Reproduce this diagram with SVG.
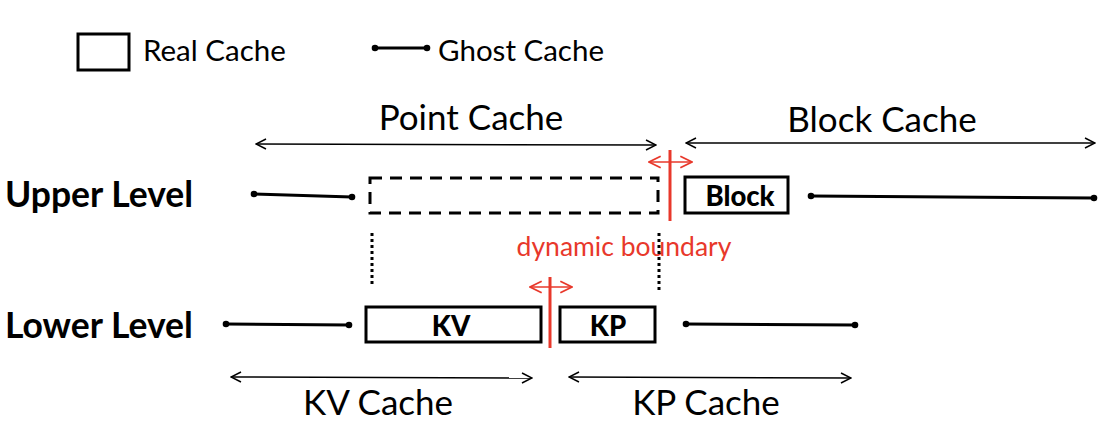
<svg xmlns="http://www.w3.org/2000/svg" width="1113" height="427" viewBox="0 0 1113 427">
<style>
.t{font-family:Lato,"Open Sans",sans-serif;fill:#000}
.lbl{font-size:35.5px;font-weight:bold}
.bx{fill:#fff;stroke:#000;stroke-width:3}
.gh{stroke:#000;stroke-width:3;fill:none}
.ar{stroke:#000;stroke-width:1.5;fill:none;marker-start:url(#a);marker-end:url(#a)}
.rar{stroke:#e8382b;stroke-width:1.5;fill:none;marker-start:url(#r);marker-end:url(#r)}
.rl{stroke:#e8382b;stroke-width:3}
.dot{stroke:#000;stroke-width:3;stroke-dasharray:3 3}
</style>
<defs>
<marker id="a" viewBox="0 0 12 12" refX="11" refY="6" markerWidth="12" markerHeight="12" markerUnits="userSpaceOnUse" orient="auto-start-reverse"><polyline points="1,1 11,6 1,11" fill="none" stroke="#000" stroke-width="1.5"/></marker>
<marker id="r" viewBox="0 0 12 12" refX="11" refY="6" markerWidth="14" markerHeight="14" markerUnits="userSpaceOnUse" orient="auto-start-reverse"><polyline points="1,1 11,6 1,11" fill="none" stroke="#e8382b" stroke-width="1.5"/></marker>
<marker id="d" viewBox="0 0 8 8" refX="4" refY="4" markerWidth="8" markerHeight="8" markerUnits="userSpaceOnUse"><circle cx="4" cy="4" r="3.3" fill="#000"/></marker>
</defs>
<g id="legend">
<rect class="bx" x="78" y="34" width="51" height="36"/>
<text class="t" x="143" y="61" font-size="29.5">Real Cache</text>
<line class="gh" x1="375" y1="48" x2="427" y2="48" marker-start="url(#d)" marker-end="url(#d)"/>
<text class="t" x="438" y="61" font-size="29.5">Ghost Cache</text>
</g>
<g id="labels">
<text class="t lbl" x="5" y="207">Upper Level</text>
<text class="t lbl" x="5" y="338">Lower Level</text>
<text class="t" x="471" y="130" font-size="35" text-anchor="middle">Point Cache</text>
<text class="t" x="882" y="132" font-size="35" text-anchor="middle">Block Cache</text>
<text class="t" x="378" y="415" font-size="35" text-anchor="middle">KV Cache</text>
<text class="t" x="706" y="415" font-size="35" text-anchor="middle">KP Cache</text>
<text x="624" y="256" font-size="26.5" text-anchor="middle" style="font-family:Lato,'Open Sans',sans-serif;fill:#e8382b">dynamic boundary</text>
</g>
<g id="point-cache">
<rect x="370" y="178" width="288" height="35" fill="none" stroke="#000" stroke-width="3" stroke-dasharray="12 8"/>
</g>
<g id="block">
<rect class="bx" x="685" y="177" width="103" height="36"/>
<text class="t" x="740" y="206" font-size="27.5" font-weight="900" text-anchor="middle">Block</text>
</g>
<g id="kv">
<rect class="bx" x="366" y="307" width="175" height="35"/>
<text class="t" x="451" y="336" font-size="27.5" font-weight="900" text-anchor="middle">KV</text>
</g>
<g id="kp">
<rect class="bx" x="560" y="307" width="95" height="35"/>
<text class="t" x="608" y="336" font-size="27.5" font-weight="900" text-anchor="middle">KP</text>
</g>
<g id="connectors">
<line class="ar" x1="256" y1="144" x2="656" y2="145"/>
<line class="ar" x1="686" y1="143" x2="1095" y2="143"/>
<line class="ar" x1="231" y1="377" x2="532" y2="378"/>
<line class="ar" x1="569" y1="377" x2="851" y2="378"/>
<line class="gh" x1="254" y1="194" x2="352" y2="197" marker-start="url(#d)" marker-end="url(#d)"/>
<line class="gh" x1="811" y1="196" x2="1094" y2="198" marker-start="url(#d)" marker-end="url(#d)"/>
<line class="gh" x1="226" y1="324" x2="349" y2="325" marker-start="url(#d)" marker-end="url(#d)"/>
<line class="gh" x1="686" y1="324" x2="855" y2="325" marker-start="url(#d)" marker-end="url(#d)"/>
<line class="dot" x1="372" y1="233" x2="372" y2="287"/>
<line class="dot" x1="659" y1="233" x2="659" y2="292"/>
<line class="rl" x1="670" y1="150" x2="670" y2="221"/>
<line class="rar" x1="649" y1="162" x2="692" y2="162"/>
<line class="rl" x1="550" y1="277" x2="550" y2="348"/>
<line class="rar" x1="530" y1="287" x2="572" y2="287"/>
</g>
</svg>
